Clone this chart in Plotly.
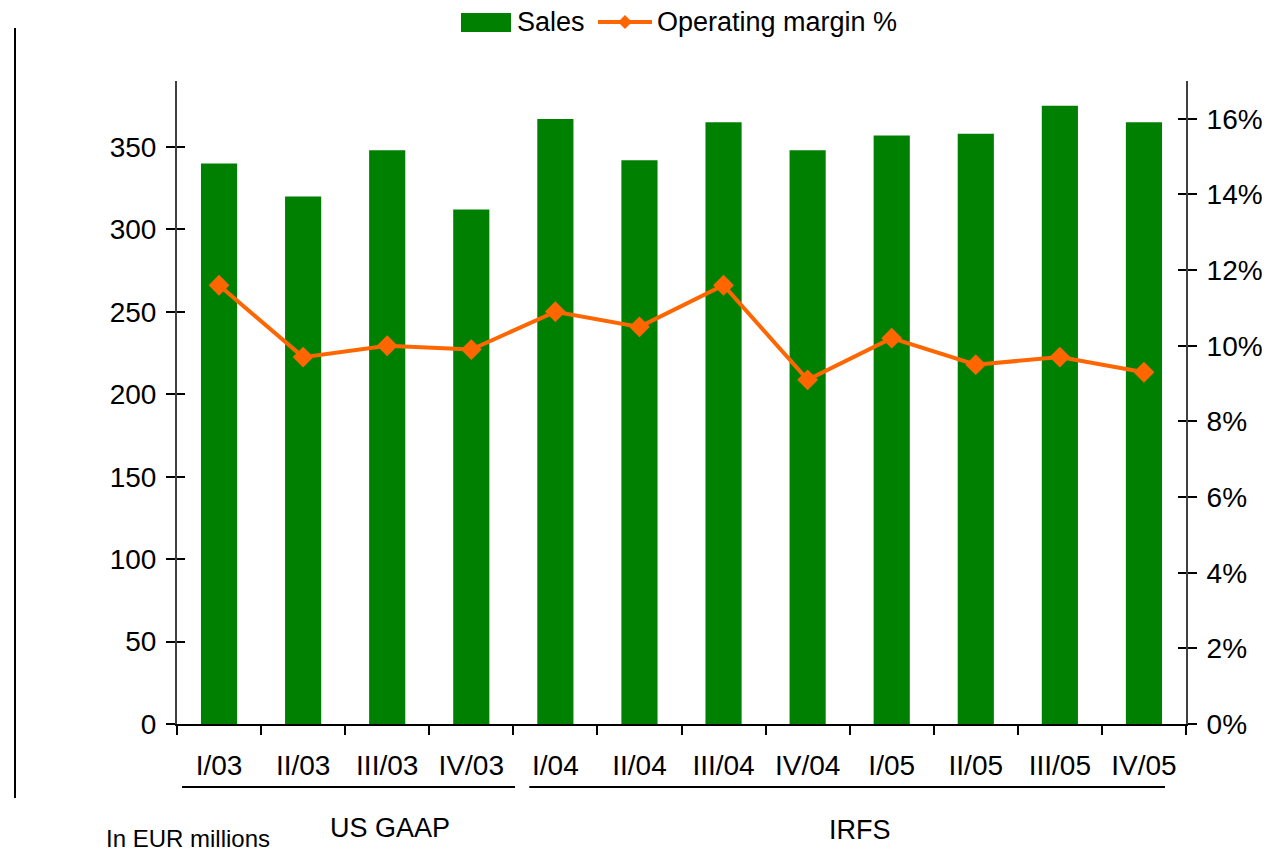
import plotly.graph_objects as go

categories = ["I/03", "II/03", "III/03", "IV/03", "I/04", "II/04", "III/04",
              "IV/04", "I/05", "II/05", "III/05", "IV/05"]
sales = [340, 320, 348, 312, 367, 342, 365, 348, 357, 358, 375, 365]
margin_pct = [0.116, 0.097, 0.100, 0.099, 0.109, 0.105, 0.116,
              0.091, 0.102, 0.095, 0.097, 0.093]

groups = ["US GAAP", "IRFS"]
unit_note = "In EUR millions"
legend_names = ["Sales", "Operating margin %"]

FONT = "Arial, Liberation Sans, sans-serif"
GREEN = "#008000"
ORANGE = "#FF6600"

# page body has an 8px offset; compensate in margins
OFF = 8
PL, PR, PT, PB = 177, 1186, 81, 724   # target plot area in window pixels
W, H = 1270, 851


def px(xp):
    return (xp - PL) / (PR - PL)


def py(yp):
    return (PB - yp) / (PB - PT)


fig = go.Figure()
fig.add_trace(go.Bar(x=categories, y=sales, name=legend_names[0],
                     marker=dict(color=GREEN, line=dict(width=0)), yaxis="y"))
fig.add_trace(go.Scatter(x=categories, y=margin_pct, name=legend_names[1],
                         mode="lines+markers", yaxis="y2",
                         line=dict(color=ORANGE, width=4),
                         marker=dict(symbol="diamond", size=16, color=ORANGE)))

axis_font = dict(family=FONT, size=28, color="black")

fig.update_layout(
    width=W, height=H,
    margin=dict(l=PL - OFF, r=W - PR + OFF, t=PT - OFF, b=H - PB + OFF,
                autoexpand=False),
    paper_bgcolor="white", plot_bgcolor="white",
    font=dict(family=FONT, size=28, color="black"),
    bargap=0.57,
    showlegend=False,
    xaxis=dict(type="category", showline=True, linecolor="black", linewidth=1.5,
               ticks="outside", ticklen=9, tickcolor="black", tickwidth=1.5,
               tickson="boundaries", tickfont=axis_font, showgrid=False,
               zeroline=False, range=[-0.5, 11.5], ticklabelstandoff=16),
    yaxis=dict(range=[0, 390], dtick=50, showline=True, linecolor="#404040",
               linewidth=2, ticks="outside", ticklen=9, tickcolor="black",
               tickwidth=1.5, tickfont=axis_font, showgrid=False, zeroline=False,
               ticklabelstandoff=4),
    yaxis2=dict(range=[0, 0.17], dtick=0.02, tickformat=".0%", overlaying="y",
                side="right", showline=True, linecolor="#404040", linewidth=2,
                ticks="outside", ticklen=9, tickcolor="black", tickwidth=1.5,
                tickfont=axis_font, showgrid=False, zeroline=False,
                ticklabelstandoff=4),
    yaxis3=dict(range=[0, 390], dtick=50, overlaying="y", side="left",
                showline=False, ticks="inside", ticklen=8, tickcolor="black",
                tickwidth=1.5, showticklabels=False, showgrid=False,
                zeroline=False),
    yaxis4=dict(range=[0, 0.17], dtick=0.02, overlaying="y", side="right",
                showline=False, ticks="inside", ticklen=8, tickcolor="black",
                tickwidth=1.5, showticklabels=False, showgrid=False,
                zeroline=False),
)

# invisible traces to activate the inside-tick axes
fig.add_trace(go.Scatter(x=[categories[0]], y=[0], yaxis="y3", mode="markers",
                         marker=dict(opacity=0), hoverinfo="skip", showlegend=False))
fig.add_trace(go.Scatter(x=[categories[0]], y=[0], yaxis="y4", mode="markers",
                         marker=dict(opacity=0), hoverinfo="skip", showlegend=False))

# group underlines
fig.add_shape(type="line", xref="x", yref="paper", x0=-0.44, x1=3.52,
              y0=py(787), y1=py(787), line=dict(color="black", width=2))
fig.add_shape(type="line", xref="x", yref="paper", x0=3.69, x1=11.25,
              y0=py(787), y1=py(787), line=dict(color="black", width=2))
# left vertical rule
fig.add_shape(type="line", xref="paper", yref="paper",
              x0=px(15), x1=px(15), y0=py(28), y1=py(798),
              line=dict(color="black", width=2))

fig.add_annotation(text=groups[0], xref="x", yref="paper", x=2.03, y=py(828),
                   showarrow=False, font=dict(family=FONT, size=27, color="black"),
                   xanchor="center", yanchor="middle")
fig.add_annotation(text=groups[1], xref="x", yref="paper", x=7.62, y=py(830),
                   showarrow=False, font=dict(family=FONT, size=27, color="black"),
                   xanchor="center", yanchor="middle")
fig.add_annotation(text=unit_note, xref="paper", yref="paper", x=px(104), y=py(838),
                   showarrow=False, font=dict(family=FONT, size=24, color="black"),
                   xanchor="left", yanchor="middle")

# custom legend
LY = 22
fig.add_shape(type="rect", xref="paper", yref="paper",
              x0=px(461), x1=px(511), y0=py(32), y1=py(13),
              fillcolor=GREEN, line=dict(width=0))
fig.add_annotation(text=legend_names[0], xref="paper", yref="paper", x=px(515), y=py(LY),
                   showarrow=False, font=dict(family=FONT, size=27, color="black"),
                   xanchor="left", yanchor="middle")
fig.add_shape(type="line", xref="paper", yref="paper",
              x0=px(598), x1=px(652), y0=py(LY), y1=py(LY),
              line=dict(color=ORANGE, width=4))
cx, hx, hy = 625, 7, 7
fig.add_shape(type="path", xref="paper", yref="paper",
              path=(f"M {px(cx - hx)} {py(LY)} L {px(cx)} {py(LY - hy)} "
                    f"L {px(cx + hx)} {py(LY)} L {px(cx)} {py(LY + hy)} Z"),
              fillcolor=ORANGE, line=dict(width=0))
fig.add_annotation(text=legend_names[1], xref="paper", yref="paper", x=px(655), y=py(LY),
                   showarrow=False, font=dict(family=FONT, size=27, color="black"),
                   xanchor="left", yanchor="middle")

fig.write_html("out.html")
